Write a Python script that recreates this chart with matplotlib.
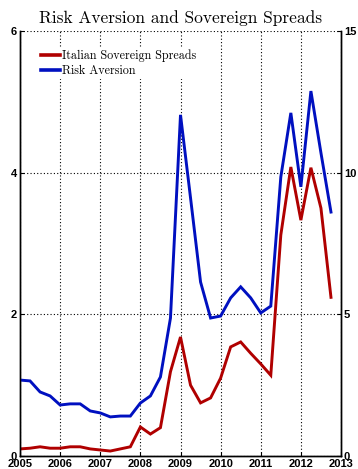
import numpy as np
import matplotlib
matplotlib.use('Agg')
import matplotlib.pyplot as plt

# quarterly data, 2005Q1 .. 2012Q4
years = 2005 + 0.25 * np.arange(32)

spreads = [0.10, 0.11, 0.13, 0.11, 0.11, 0.13, 0.13, 0.10,
           0.085, 0.07, 0.10, 0.13, 0.41, 0.31, 0.40, 1.19,
           1.68, 1.00, 0.75, 0.82, 1.10, 1.54, 1.61, 1.45,
           1.30, 1.14, 3.12, 4.08, 3.33, 4.07, 3.50, 2.24]

risk_aversion = [2.68, 2.65, 2.26, 2.12, 1.80, 1.84, 1.84, 1.59,
                 1.52, 1.38, 1.41, 1.41, 1.87, 2.12, 2.79, 4.87,
                 12.04, 9.11, 6.14, 4.87, 4.94, 5.58, 5.97, 5.58,
                 5.05, 5.29, 9.85, 12.11, 9.50, 12.88, 10.70, 8.61]

year_ticks = list(range(2005, 2014))
left_ticks = [0, 2, 4, 6]
right_ticks = [0, 5, 10, 15]

red = '#B00000'
blue = '#0010C0'
serif = 'cmr10'
tick_font = dict(family='Liberation Sans', weight='bold', size=8)

fig = plt.figure(figsize=(3.58, 4.69), dpi=100)
ax = fig.add_axes([20 / 358, 1 - 456 / 469, 321 / 358, 425 / 469])
ax2 = ax.twinx()

l1, = ax.plot(years, spreads, color=red, lw=2.1, solid_joinstyle='miter')
l2, = ax2.plot(years, risk_aversion, color=blue, lw=2.1, solid_joinstyle='miter')

ax.set_xlim(2005, 2013)
ax.set_ylim(0, 6)
ax2.set_ylim(0, 15)
ax.set_xticks(year_ticks)
ax.set_yticks(left_ticks)
ax2.set_yticks(right_ticks)

ax.grid(True, color='black', linestyle=(0, (1, 2)), linewidth=0.8)
ax.set_axisbelow(True)

for a in (ax, ax2):
    a.spines['top'].set_visible(False)
    for s in a.spines.values():
        s.set_linewidth(1.0)
ax.tick_params(axis='y', direction='in', length=3, width=0.8, pad=2)
ax.tick_params(axis='x', direction='in', length=3, width=0.8, pad=2)
ax2.tick_params(direction='in', length=3, width=0.8, pad=2)

for lab in ax.get_xticklabels() + ax.get_yticklabels() + ax2.get_yticklabels():
    lab.set_fontfamily(tick_font['family'])
    lab.set_fontweight(tick_font['weight'])
    lab.set_fontsize(tick_font['size'])

ax.set_title('Risk Aversion and Sovereign Spreads', family=serif, size=12.5, pad=6)

leg = ax2.legend([l1, l2], ['Italian Sovereign Spreads', 'Risk Aversion'],
                 loc='upper left', bbox_to_anchor=(0.058, 0.962),
                 prop=dict(family=serif, size=8.7), frameon=True,
                 handlelength=1.6, handletextpad=0.15, labelspacing=0.22,
                 borderpad=0.2, borderaxespad=0, fancybox=False)
leg.get_frame().set_edgecolor('none')
leg.get_frame().set_facecolor('white')
leg.get_frame().set_alpha(1)
for h in leg.get_lines():
    h.set_linewidth(2.6)

fig.savefig('out.png', dpi=100)
